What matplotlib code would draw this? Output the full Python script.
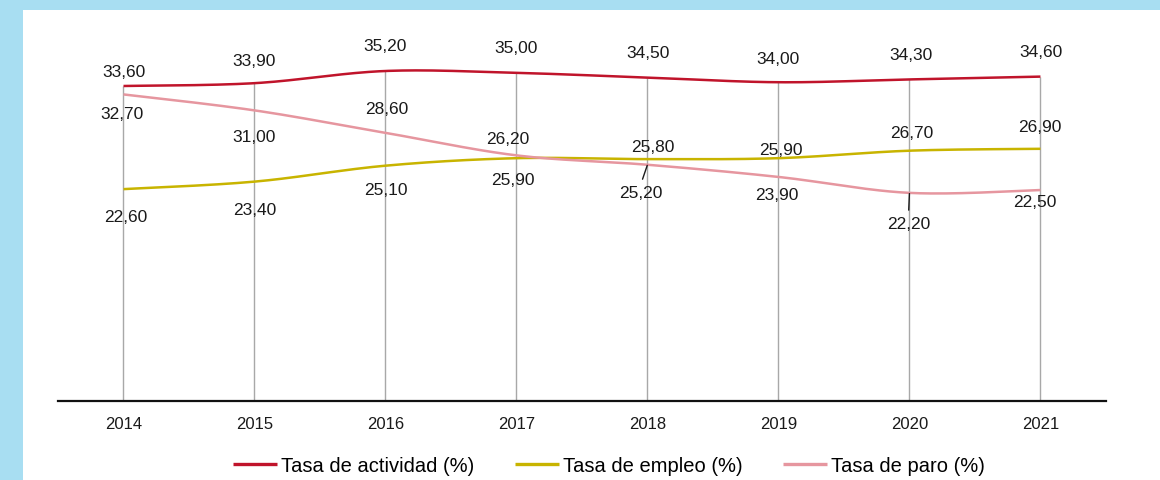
import numpy as np
import matplotlib
matplotlib.use("Agg")
import matplotlib.pyplot as plt
from matplotlib.patches import Rectangle

plt.rcParams['font.family'] = ['Liberation Sans', 'DejaVu Sans']

years = [2014, 2015, 2016, 2017, 2018, 2019, 2020, 2021]
actividad = [33.6, 33.9, 35.2, 35.0, 34.5, 34.0, 34.3, 34.6]
empleo = [22.6, 23.4, 25.1, 25.9, 25.8, 25.9, 26.7, 26.9]
paro = [32.7, 31.0, 28.6, 26.2, 25.2, 23.9, 22.2, 22.5]

# label offsets in pixels (dx, dy), placed by hand like the original
off_act = [(0, 14), (0, 23), (0, 25), (0, 25), (1, 25), (0, 24), (2, 25), (1, 25)]
off_emp = [(2, -27), (0, -28), (0, -24), (-4, -21), (5, 13), (2, 9), (2, 18), (-1, 22)]
off_par = [(-2, -19), (0, -26), (1, 24), (-9, 17), (-7, -28), (-2, -18), (-1, -31), (-6, -11)]
leaders_par = [False, False, False, False, True, False, True, False]

c_act = '#C0142B'
c_emp = '#C8B400'
c_par = '#E6969F'
lab_size = 12.5


def smooth(x, y, n=40):
    # catmull-rom style smoothing, like a spreadsheet "smoothed line"
    x = np.asarray(x, float)
    y = np.asarray(y, float)
    px = np.concatenate([[x[0]], x, [x[-1]]])
    py = np.concatenate([[y[0]], y, [y[-1]]])
    xs, ys = [], []
    t = np.linspace(0, 1, n)
    for i in range(1, len(px) - 2):
        p0 = np.array([px[i], py[i]])
        p3 = np.array([px[i + 1], py[i + 1]])
        p1 = p0 + (np.array([px[i + 1], py[i + 1]]) - np.array([px[i - 1], py[i - 1]])) / 6
        p2 = p3 - (np.array([px[i + 2], py[i + 2]]) - np.array([px[i], py[i]])) / 6
        b = ((1 - t) ** 3)[:, None] * p0 + (3 * (1 - t) ** 2 * t)[:, None] * p1 \
            + (3 * (1 - t) * t ** 2)[:, None] * p2 + (t ** 3)[:, None] * p3
        xs.extend(b[:, 0])
        ys.extend(b[:, 1])
    return xs, ys


fig = plt.figure(figsize=(11.6, 4.81), dpi=100)
fig.patch.set_facecolor('#A8DEF2')
fig.patches.append(Rectangle((23 / 1160, 0), 1, 470 / 481, transform=fig.transFigure,
                             facecolor='white', edgecolor='none', zorder=-5))

ax = fig.add_axes([0.05, 0.1642, 0.9034, 0.7797], zorder=2)
ax.set_facecolor('none')
ax.set_xlim(2013.5, 2021.5)
ax.set_ylim(0, 40)

# drop lines from the top point of each year
tops = [max(a, b, c) for a, b, c in zip(actividad, empleo, paro)]
ax.vlines(years, 0, tops, color='#A8A8A8', lw=1.0, zorder=1)

for vals, col, lab in [(actividad, c_act, 'Tasa de actividad (%)'),
                       (empleo, c_emp, 'Tasa de empleo (%)'),
                       (paro, c_par, 'Tasa de paro (%)')]:
    sx, sy = smooth(years, vals)
    ax.plot(sx, sy, color=col, lw=1.8, label=lab, zorder=3, solid_capstyle='butt')


def fmt(v):
    return f"{v:.2f}".replace('.', ',')


for vals, offs in [(actividad, off_act), (empleo, off_emp)]:
    for x, v, (dx, dy) in zip(years, vals, offs):
        ax.annotate(fmt(v), (x, v), xytext=(dx, dy), textcoords='offset pixels',
                    ha='center', va='center', fontsize=lab_size, color='#1a1a1a', zorder=5)

for x, v, (dx, dy), lead in zip(years, paro, off_par, leaders_par):
    if lead:
        ax.annotate(fmt(v), (x, v), xytext=(dx, dy), textcoords='offset pixels',
                    ha='center', va='center', fontsize=lab_size, color='#1a1a1a', zorder=5,
                    arrowprops=dict(arrowstyle='-', color='#1a1a1a', lw=1.0,
                                    relpos=(0.5, 1.0), shrinkA=2.5, shrinkB=0.5))
    else:
        ax.annotate(fmt(v), (x, v), xytext=(dx, dy), textcoords='offset pixels',
                    ha='center', va='center', fontsize=lab_size, color='#1a1a1a', zorder=5)

for s in ['top', 'right', 'left']:
    ax.spines[s].set_visible(False)
ax.spines['bottom'].set_linewidth(1.6)
ax.spines['bottom'].set_color('#111111')
ax.set_yticks([])
ax.set_xticks(years)
ax.set_xticklabels([str(y) for y in years], fontsize=12, color='#1a1a1a')
ax.tick_params(axis='x', length=0, pad=11)

fig.legend(loc='center', bbox_to_anchor=(0.525, 0.031), ncol=3, frameon=False,
           fontsize=14.5, handlelength=2.2, handletextpad=0.2, columnspacing=2.0)
for line in fig.legends[0].get_lines():
    line.set_linewidth(2.4)

fig.savefig('out.png', dpi=100, facecolor=fig.get_facecolor())
